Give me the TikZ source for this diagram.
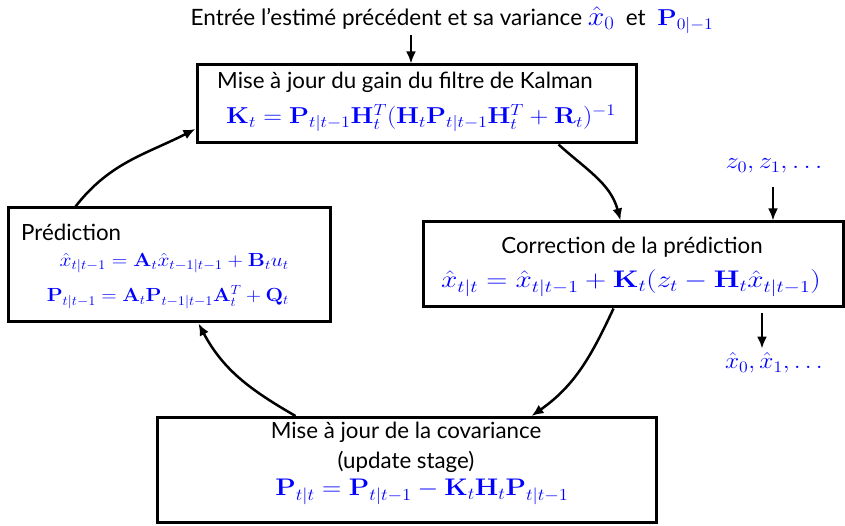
\RequirePackage{fix-cm}
\documentclass[tikz,border=0pt]{standalone}
\usepackage[no-math]{fontspec}
\setmainfont{Lato}
\usepackage{amsmath}
\usetikzlibrary{arrows.meta}
\newcommand{\widemath}[2]{\scalebox{#1}[1]{$#2$}}
\tikzset{
  box/.style={draw, line width=3pt, inner sep=0pt},
  flow/.style={-{Latex[length=12pt,width=10pt]}, line width=2.5pt},
  txt/.style={font=\fontsize{22.3}{24}\selectfont, inner sep=0pt},
  eq/.style={text=blue, inner sep=0pt},
}
\begin{document}
\begin{tikzpicture}[x=1pt,y=1pt]
  \useasboundingbox (0,0) rectangle (845,525);

  % entree
  \node[txt, font=\fontsize{22.5}{24}\selectfont] (entry) at (452,505) {Entrée l’estimé précédent et sa variance
    \textcolor{blue}{\fontsize{27}{28}\selectfont\widemath{1.1}{\hat{x}_0}}\ \ et\ \
    \textcolor{blue}{\fontsize{23}{24}\selectfont\widemath{1.1}{\mathbf{P}_{0|-1}}}};
  \coordinate (in) at (411,490);

  % les quatre etapes
  \node[box, minimum width=439, minimum height=78] (gain) at (416.5,421) {};
  \node[txt] (gaintitle) at (405,443) {Mise à jour du gain du filtre de Kalman};
  \node[eq, font=\fontsize{23}{24}\selectfont] (gaineq) at (421,407)
    {\widemath{1.13}{\mathbf{K}_t=\mathbf{P}_{t|t-1}\mathbf{H}_t^T(\mathbf{H}_t\mathbf{P}_{t|t-1}\mathbf{H}_t^T+\mathbf{R}_t)^{-1}}};

  \node[box, minimum width=420, minimum height=85] (corr) at (633,260.5) {};
  \node[txt] (corrtitle) at (632,278) {Correction de la prédiction};
  \node[eq, font=\fontsize{24}{26}\selectfont] (correq) at (631,242)
    {\widemath{1.22}{\hat{x}_{t|t}=\hat{x}_{t|t-1}+\mathbf{K}_t(z_t-\mathbf{H}_t\hat{x}_{t|t-1})}};

  \node[box, minimum width=499, minimum height=105] (cov) at (406.5,55) {};
  \node[txt] (covtitle) at (406,93) {Mise à jour de la covariance};
  \node[txt] (covsub) at (406,63) {(update stage)};
  \node[eq, font=\fontsize{24}{26}\selectfont] (coveq) at (422,33)
    {\widemath{1.11}{\mathbf{P}_{t|t}=\mathbf{P}_{t|t-1}-\mathbf{K}_t\mathbf{H}_t\mathbf{P}_{t|t-1}}};

  \node[box, minimum width=322, minimum height=114] (pred) at (169,260) {};
  \node[txt, anchor=west] (predtitle) at (21,293) {Prédiction};
  \node[eq, anchor=east, font=\fontsize{19}{20}\selectfont] (predx) at (289,262)
    {\widemath{1.13}{\hat{x}_{t|t-1}=\mathbf{A}_t\hat{x}_{t-1|t-1}+\mathbf{B}_tu_t}};
  \node[eq, anchor=east, font=\fontsize{19}{20}\selectfont] (predp) at (289,228)
    {\widemath{1.09}{\mathbf{P}_{t|t-1}=\mathbf{A}_t\mathbf{P}_{t-1|t-1}\mathbf{A}_t^T+\mathbf{Q}_t}};

  % mesures et sorties
  \node[eq, font=\fontsize{23}{24}\selectfont] (zin) at (774,359) {\widemath{1.15}{z_0,z_1,\ldots}};
  \node[eq, font=\fontsize{23}{24}\selectfont] (xout) at (774,162) {\widemath{1.1}{\hat{x}_0,\hat{x}_1,\ldots}};
  \coordinate (zs) at (773,338);
  \coordinate (xs) at (762,212);

  \draw[flow] (in) -- (in |- gain.north);
  \draw[flow] (zs) -- (zs |- corr.north);
  \draw[flow] (xs) -- ([yshift=4]xs |- xout.north);

  % le cycle
  \draw[flow] ([xshift=69]pred.north west) to[out=52,in=207] ([yshift=-25]gain.west);
  \draw[flow] ([xshift=363]gain.south west) to[out=-42,in=105] ([xshift=199]corr.north west);
  \draw[flow] ([xshift=192]corr.south west) to[out=-115,in=35] ([xshift=376]cov.north west);
  \draw[flow] ([xshift=140]cov.north west) to[out=150,in=-62] ([xshift=192]pred.south west);
\end{tikzpicture}
\end{document}
